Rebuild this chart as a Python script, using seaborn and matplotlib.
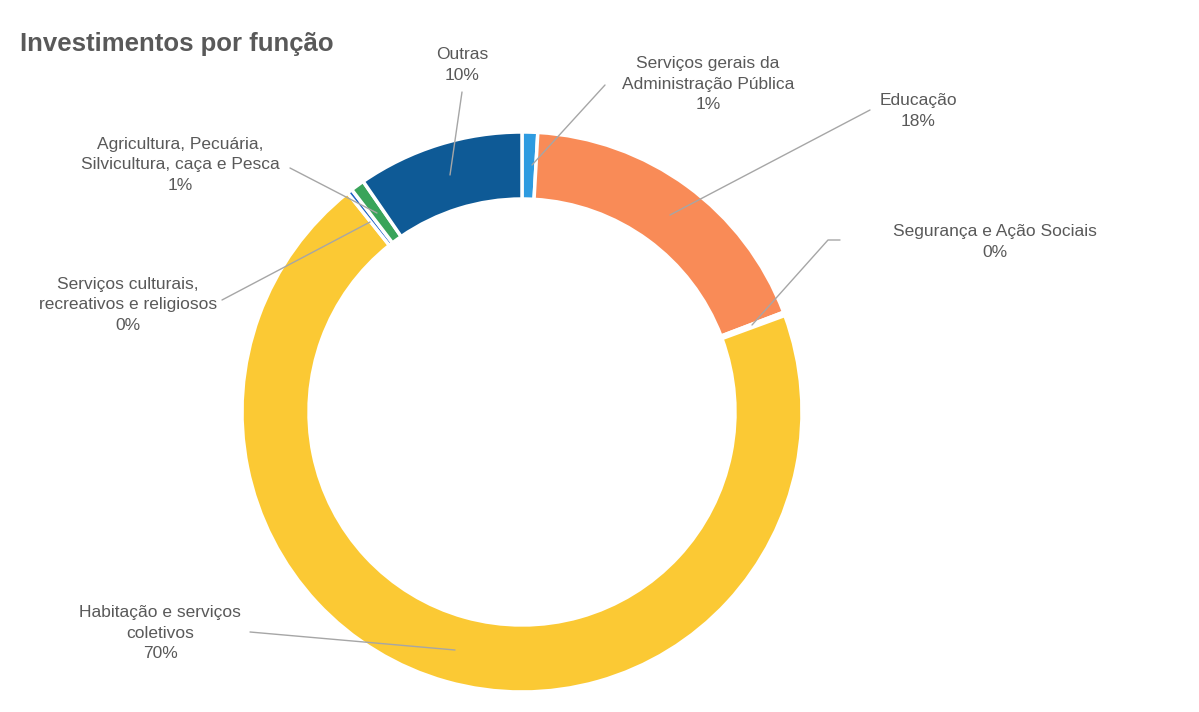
import matplotlib.pyplot as plt
import seaborn as sns

# Data
categories = ['Serviços gerais da\nAdministração Pública', 'Educação', 'Segurança e Ação Sociais',
              'Habitação e serviços\ncoletivos', 'Serviços culturais,\nrecreativos e religiosos',
              'Agricultura, Pecuária,\nSilvicultura, caça e Pesca', 'Outras']
values = [0.9, 18.3, 0.2, 69.9, 0.3, 0.8, 9.6]
pct_labels = ['1%', '18%', '0%', '70%', '0%', '1%', '10%']
colors = ['#2e9be0', '#f98b57', '#ffffff', '#fbc934', '#1f62c4', '#3aa45a', '#0e5a96']

sns.set_theme(style='white')
plt.rcParams['font.family'] = ['Liberation Sans', 'DejaVu Sans']

W, H = 1199, 712
fig = plt.figure(figsize=(W / 100, H / 100), dpi=100)
ax = fig.add_axes([0, 0, 1, 1])

cx, cy, r = 522, H - 412, 280
ax.pie(values, colors=colors, startangle=90, counterclock=False,
       center=(cx, cy), radius=r, frame=True,
       wedgeprops=dict(width=67, edgecolor='white', linewidth=2.5))
ax.set_xlim(0, W)
ax.set_ylim(0, H)
ax.set_aspect('equal')
ax.axis('off')

# label text centre (pixel coords), leader points
label_pos = [(708, 84), (918, 111), (995, 242), (160, 633), (128, 305), (180, 165), (462, 65)]
leaders = [
    [(532, 165), (605, 85)],
    [(670, 215), (870, 110)],
    [(752, 325), (828, 240), (840, 240)],
    [(455, 650), (250, 632)],
    [(370, 222), (222, 300)],
    [(377, 213), (290, 168)],
    [(450, 175), (462, 92)],
]
text_color = '#595959'
for cat, pct, (tx, ty), pts in zip(categories, pct_labels, label_pos, leaders):
    ax.text(tx, H - ty, f'{cat}\n{pct}', ha='center', va='center', fontsize=12.5,
            color=text_color, linespacing=1.45)
    xs = [p[0] for p in pts]
    ys = [H - p[1] for p in pts]
    ax.plot(xs, ys, color='#a6a6a6', linewidth=1)

ax.text(20, H - 44, 'Investimentos por função', ha='left', va='center', fontsize=18.5,
        fontweight='bold', color=text_color)

fig.savefig('out.png', dpi=100, facecolor='white')
